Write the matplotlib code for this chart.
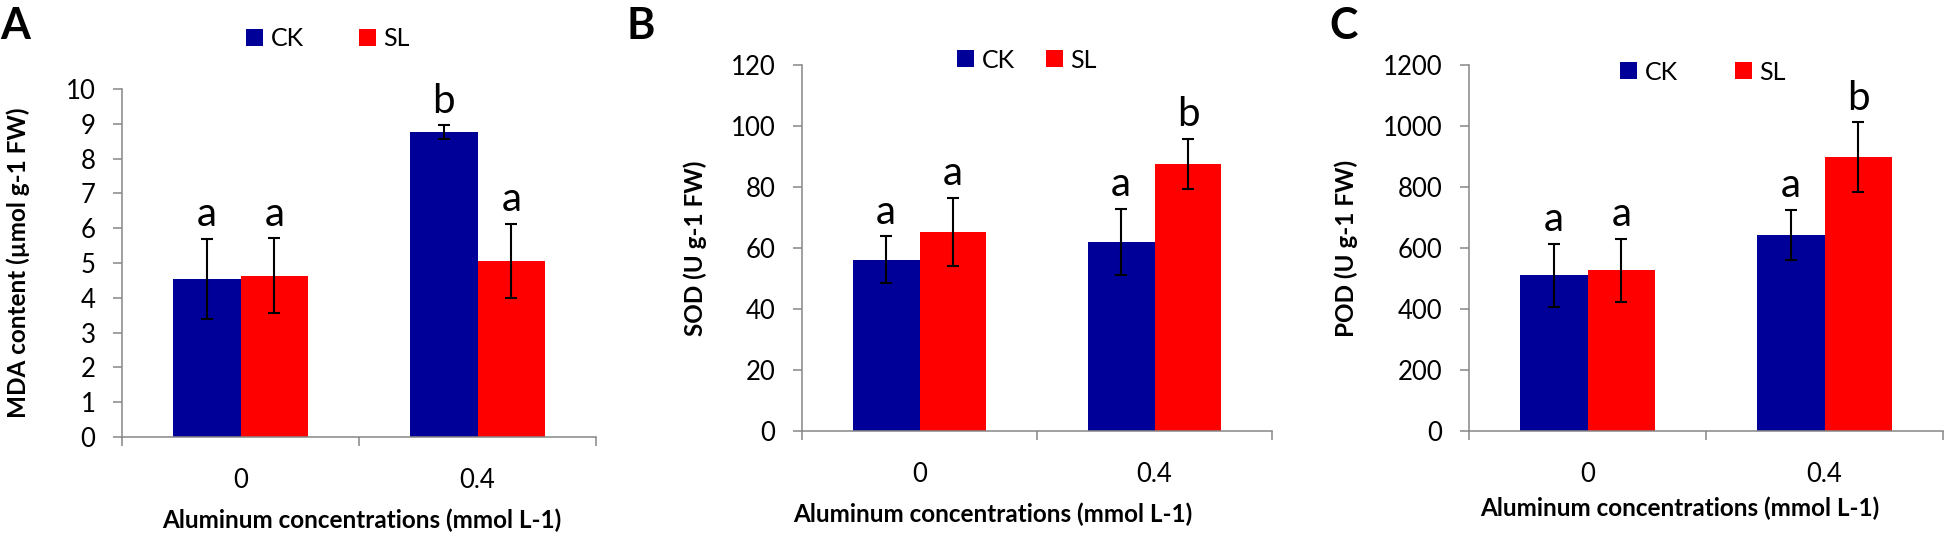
import matplotlib
matplotlib.use("Agg")
import matplotlib.pyplot as plt
import numpy as np
from matplotlib.patches import Patch

plt.rcParams['font.family'] = ['Lato', 'DejaVu Sans']

W, H = 1946, 537

groups = ["0", "0.4"]
series = ["CK", "SL"]
colors = ["#000099", "#FF0000"]

# panel A: MDA
mda_ck = [4.55, 8.76]
mda_ck_err = [1.15, 0.2]
mda_sl = [4.64, 5.06]
mda_sl_err = [1.07, 1.07]
mda_letters_ck = ["a", "b"]
mda_letters_sl = ["a", "a"]

# panel B: SOD
sod_ck = [56.2, 62.0]
sod_ck_err = [7.6, 10.8]
sod_sl = [65.2, 87.6]
sod_sl_err = [11.2, 8.3]
sod_letters_ck = ["a", "a"]
sod_letters_sl = ["a", "b"]

# panel C: POD
pod_ck = [511, 643]
pod_ck_err = [103, 83]
pod_sl = [527, 897]
pod_sl_err = [104, 115]
pod_letters_ck = ["a", "a"]
pod_letters_sl = ["a", "b"]

panels = [
    dict(tag="A", box=(122, 89, 596, 437), ymax=10, ystep=1,
         ylabel="MDA content (µmol g-1 FW)", ylab_xy=(18, 263), xlab_xy=(362, 520),
         leg_xy=(246, 39), colsp=2.2, tag_x=0,
         ck=mda_ck, ck_err=mda_ck_err, sl=mda_sl, sl_err=mda_sl_err,
         let_ck=mda_letters_ck, let_sl=mda_letters_sl),
    dict(tag="B", box=(802, 65, 1272, 431), ymax=120, ystep=20,
         ylabel="SOD (U g-1 FW)", ylab_xy=(695, 248), xlab_xy=(993, 514),
         leg_xy=(957, 60), colsp=1.25, tag_x=627,
         ck=sod_ck, ck_err=sod_ck_err, sl=sod_sl, sl_err=sod_sl_err,
         let_ck=sod_letters_ck, let_sl=sod_letters_sl),
    dict(tag="C", box=(1469, 65, 1943, 431), ymax=1200, ystep=200,
         ylabel="POD (U g-1 FW)", ylab_xy=(1346, 248), xlab_xy=(1680, 508),
         leg_xy=(1620, 72), colsp=2.3, tag_x=1329,
         ck=pod_ck, ck_err=pod_ck_err, sl=pod_sl, sl_err=pod_sl_err,
         let_ck=pod_letters_ck, let_sl=pod_letters_sl),
]

fig = plt.figure(figsize=(W / 100, H / 100), dpi=100)
axis_gray = "#868686"
bw = 0.285
x = np.arange(len(groups))

for p in panels:
    x0, y0, x1, y1 = p["box"]
    ax = fig.add_axes([x0 / W, 1 - y1 / H, (x1 - x0) / W, (y1 - y0) / H])
    for vals, errs, letters, col, off in [
        (p["ck"], p["ck_err"], p["let_ck"], colors[0], -bw / 2),
        (p["sl"], p["sl_err"], p["let_sl"], colors[1], bw / 2),
    ]:
        ax.bar(x + off, vals, bw, color=col, zorder=2)
        ax.errorbar(x + off, vals, yerr=errs, fmt="none", ecolor="black",
                    elinewidth=1.5, capsize=4.2, capthick=1.5, zorder=3)
        for xi, v, e, t in zip(x + off, vals, errs, letters):
            ax.annotate(t, (xi, v + e), xytext=(0, 9), textcoords="offset points",
                        ha="center", va="baseline", fontsize=29)

    ax.set_xlim(-0.5, 1.5)
    ax.set_ylim(0, p["ymax"])
    ax.set_yticks(np.arange(0, p["ymax"] + p["ystep"] / 2, p["ystep"]))
    ax.set_xticks(x)
    ax.set_xticklabels(groups)
    ax.set_xticks([-0.5, 0.5, 1.5], minor=True)
    ax.tick_params(axis="x", which="major", length=0, pad=22, labelsize=18.5)
    ax.tick_params(axis="x", which="minor", length=6.5, width=1.1, color=axis_gray)
    ax.tick_params(axis="y", length=6.5, width=1.1, color=axis_gray, pad=12.5, labelsize=18.5)
    for s in ["top", "right"]:
        ax.spines[s].set_visible(False)
    for s in ["left", "bottom"]:
        ax.spines[s].set_color(axis_gray)
        ax.spines[s].set_linewidth(1.1)

    ax.set_xlabel("Aluminum concentrations (mmol L-1)", fontsize=17.5, fontweight="bold")
    ax.xaxis.set_label_coords(p["xlab_xy"][0] / W, 1 - p["xlab_xy"][1] / H, transform=fig.transFigure)
    ax.xaxis.label.set_va("center")
    ax.set_ylabel(p["ylabel"], fontsize=17.5, fontweight="bold")
    ax.yaxis.set_label_coords(p["ylab_xy"][0] / W, 1 - p["ylab_xy"][1] / H, transform=fig.transFigure)
    ax.yaxis.label.set_va("center")

    handles = [Patch(facecolor=c, edgecolor="none") for c in colors]
    ax.legend(handles, series, loc="center left", ncol=2, frameon=False,
              bbox_to_anchor=(p["leg_xy"][0] / W, 1 - p["leg_xy"][1] / H),
              bbox_transform=fig.transFigure, borderaxespad=0, borderpad=0,
              handlelength=0.68, handleheight=0.68, handletextpad=0.3,
              columnspacing=p["colsp"], fontsize=18)

    fig.text(p["tag_x"] / W, 1 - 6 / H, p["tag"], ha="left", va="top",
             fontsize=31, fontweight="bold")

fig.savefig("out.png", dpi=100)
